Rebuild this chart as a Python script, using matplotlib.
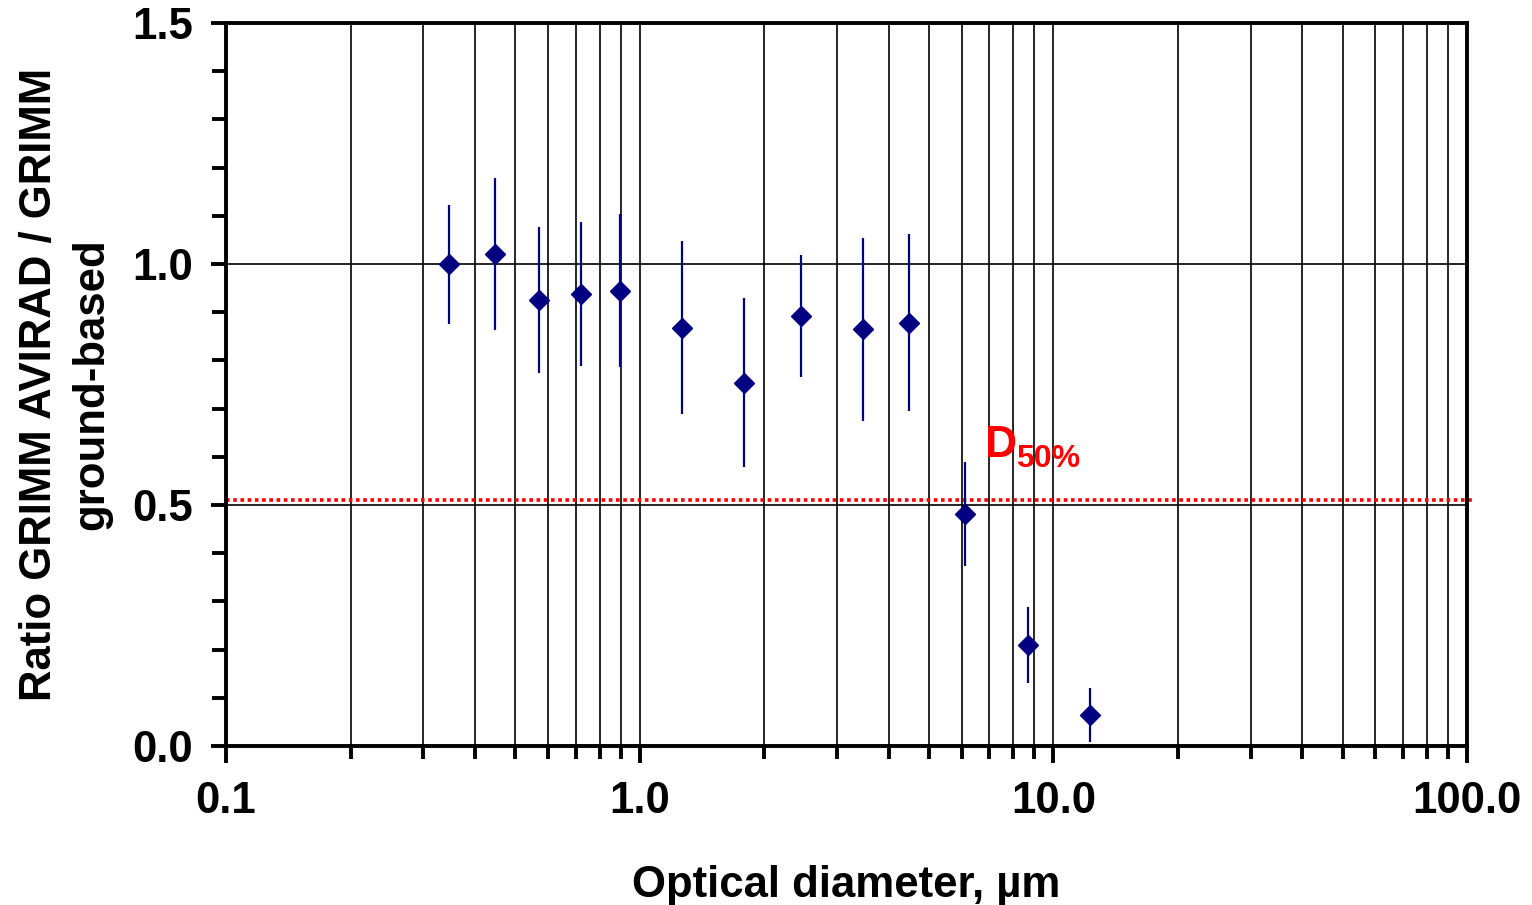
import matplotlib
matplotlib.use("Agg")
import matplotlib.pyplot as plt
import numpy as np
from matplotlib.ticker import FixedLocator, NullFormatter, MultipleLocator

plt.rcParams['font.family'] = ['Liberation Sans', 'DejaVu Sans']
plt.rcParams['font.weight'] = 'bold'

# Data
diameter = [0.346, 0.447, 0.570, 0.721, 0.894, 1.265, 1.789, 2.449, 3.464, 4.472, 6.124, 8.660, 12.247]
ratio = [1.000, 1.021, 0.925, 0.938, 0.944, 0.867, 0.753, 0.892, 0.865, 0.878, 0.481, 0.210, 0.064]
ratio_upper = [1.122, 1.178, 1.077, 1.087, 1.104, 1.048, 0.929, 1.019, 1.054, 1.062, 0.589, 0.288, 0.120]
ratio_lower = [0.876, 0.863, 0.774, 0.788, 0.786, 0.689, 0.579, 0.766, 0.674, 0.695, 0.373, 0.131, 0.008]
d50_level = 0.51
x_major = [0.1, 1.0, 10.0, 100.0]
x_major_labels = ["0.1", "1.0", "10.0", "100.0"]
y_major = [0.0, 0.5, 1.0, 1.5]
y_major_labels = ["0.0", "0.5", "1.0", "1.5"]

navy = "#000080"
FS = 31.5

fig = plt.figure(figsize=(15.32, 9.05), dpi=100)
ax = fig.add_axes([0.1475, 0.1757, 0.8101, 0.7989])

ax.set_xscale('log')
ax.set_xlim(0.1, 100)
ax.set_ylim(0, 1.5)

# grid
minor_x = [m * d for d in [0.1, 1, 10] for m in range(2, 10)]
ax.xaxis.set_major_locator(FixedLocator(x_major))
ax.xaxis.set_minor_locator(FixedLocator(minor_x))
ax.xaxis.set_minor_formatter(NullFormatter())
ax.set_xticklabels(x_major_labels)
ax.yaxis.set_major_locator(FixedLocator(y_major))
ax.set_yticklabels(y_major_labels)
ax.yaxis.set_minor_locator(MultipleLocator(0.1))

for xv in x_major + minor_x:
    ax.axvline(xv, color='black', lw=1.2, zorder=1)
for yv in y_major:
    ax.axhline(yv, color='black', lw=1.2, zorder=1)

y = np.array(ratio)
yerr = np.vstack([y - np.array(ratio_lower), np.array(ratio_upper) - y])
ax.errorbar(diameter, ratio, yerr=yerr, fmt='D', color=navy, ms=10.5, mec=navy,
            ecolor=navy, elinewidth=1.6, capsize=0, zorder=4)

# D50% line
ax.plot([0.1, 102.8], [d50_level, d50_level], color='red', lw=2.6,
        linestyle=(0, (1, 1)), clip_on=False, zorder=3)
ax.text(6.83, 0.600, "D", color='red', fontsize=32, fontweight='bold', ha='left', va='baseline')
ax.text(8.12, 0.579, "50%", color='red', fontsize=23, fontweight='bold', ha='left', va='baseline')

for s in ax.spines.values():
    s.set_linewidth(2.8)
    s.set_zorder(5)

ax.tick_params(axis='both', which='major', direction='out', width=2.8, labelsize=FS)
ax.tick_params(axis='x', which='major', length=12, pad=13)
ax.tick_params(axis='x', which='minor', length=9, width=2.8)
ax.tick_params(axis='y', which='major', length=11, pad=13)
ax.tick_params(axis='y', which='minor', length=10, width=2.8)
for lab in ax.get_xticklabels() + ax.get_yticklabels():
    lab.set_fontweight('bold')

ax.set_xlabel("Optical diameter, µm", fontsize=FS, fontweight='bold', labelpad=31)
ax.set_ylabel("Ratio GRIMM AVIRAD / GRIMM\nground-based", fontsize=FS, fontweight='bold',
              labelpad=14, linespacing=1.35)

fig.savefig("out.png", dpi=100)
